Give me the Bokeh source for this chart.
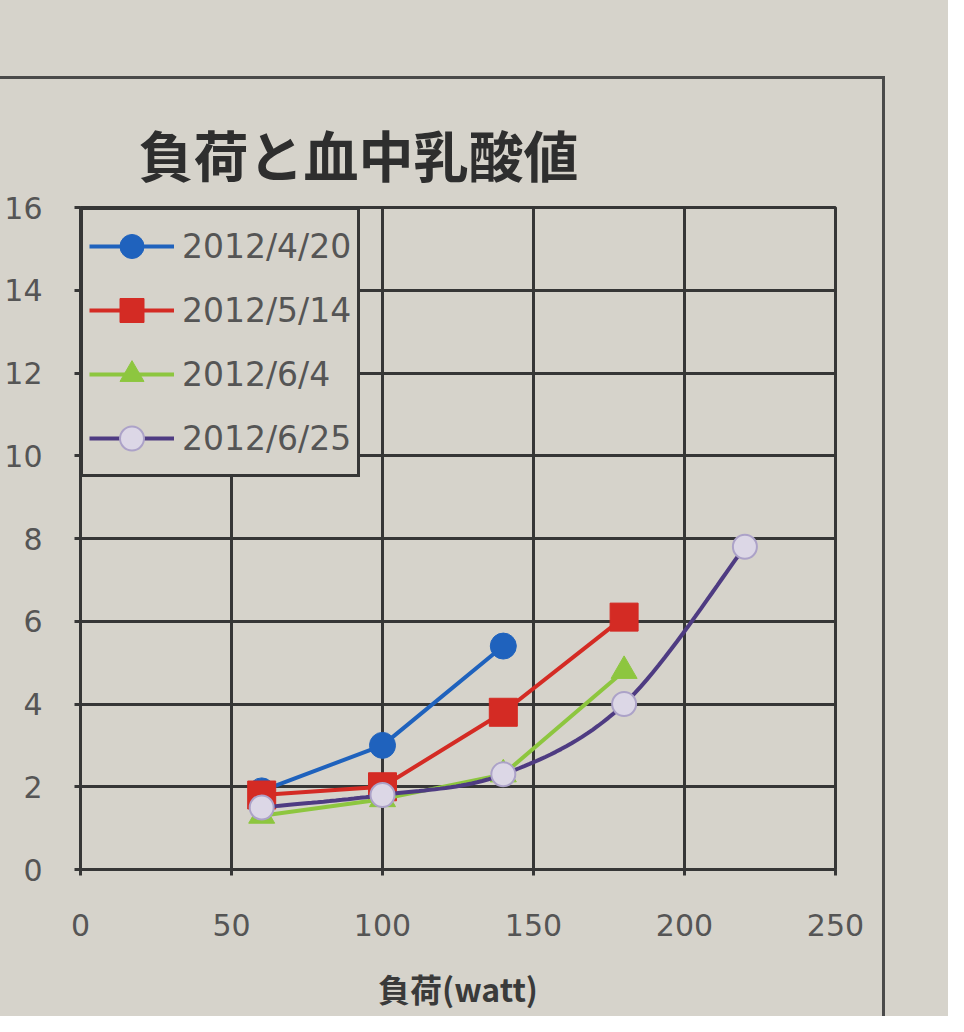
import numpy as np
from bokeh.plotting import figure
from bokeh.models import Legend, LegendItem, FixedTicker, Range1d, Spacer
from bokeh.layouts import column
from bokeh.embed import file_html
from bokeh.resources import INLINE

# ---------------- data ----------------
title_text = "負荷と血中乳酸値"
x_label = "負荷(watt)"
series_names = ["2012/4/20", "2012/5/14", "2012/6/4", "2012/6/25"]

load_0420 = [60, 100, 140]
lactate_0420 = [1.9, 3.0, 5.4]

load_0514 = [60, 100, 140, 180]
lactate_0514 = [1.8, 2.0, 3.8, 6.1]

load_0604 = [60, 100, 140, 180]
lactate_0604 = [1.3, 1.7, 2.3, 4.8]

load_0625 = [60, 100, 140, 180, 220]
lactate_0625 = [1.5, 1.8, 2.3, 4.0, 7.8]

x_ticks = [0, 50, 100, 150, 200, 250]
y_ticks = [0, 2, 4, 6, 8, 10, 12, 14, 16]

# ---------------- style ----------------
paper = "#d6d3cb"
ink = "#363636"
label_gray = "#555555"
num_font = "DejaVu Sans"
cjk_font = "Noto Sans CJK JP"


def smooth(xs, ys, n=24):
    """Catmull-Rom curve through the data points (Excel-like smoothed line)."""
    pts = np.column_stack([xs, ys]).astype(float)
    ext = np.vstack([pts[0], pts, pts[-1]])
    out = []
    for i in range(1, len(ext) - 2):
        p0, p1, p2, p3 = ext[i - 1], ext[i], ext[i + 1], ext[i + 2]
        t = np.linspace(0, 1, n)[:, None]
        seg = 0.5 * ((2 * p1) + (-p0 + p2) * t + (2 * p0 - 5 * p1 + 4 * p2 - p3) * t ** 2
                     + (-p0 + 3 * p1 - 3 * p2 + p3) * t ** 3)
        out.append(seg if i == 1 else seg[1:])
    c = np.vstack(out)
    return c[:, 0], c[:, 1]


p = figure(width=885, height=940, x_range=Range1d(0, 250), y_range=Range1d(0, 16),
           output_backend="svg", toolbar_location=None,
           background_fill_color=paper, border_fill_color=paper,
           min_border_left=80, min_border_right=50, min_border_top=128, min_border_bottom=150)

p.styles = {"border-top": "3px solid #4a4a4a", "border-right": "3px solid #4a4a4a"}

# title
p.title.text = title_text
p.title.text_font = cjk_font
p.title.text_font_style = "bold"
p.title.text_font_size = "55px"
p.title.text_color = "#2e2e2e"
p.title.align = "left"
p.title.offset = 58
p.title.standoff = 30

# grid and frame
p.outline_line_color = ink
p.outline_line_width = 3
for g in (p.xgrid, p.ygrid):
    g.grid_line_color = ink
    g.grid_line_width = 3
p.xgrid.ticker = FixedTicker(ticks=x_ticks)
p.ygrid.ticker = FixedTicker(ticks=y_ticks)

# axes
p.xaxis.ticker = FixedTicker(ticks=x_ticks)
p.yaxis.ticker = FixedTicker(ticks=y_ticks)
for ax in (p.xaxis, p.yaxis):
    ax.axis_line_color = None
    ax.major_tick_line_color = ink
    ax.major_tick_line_width = 3
    ax.major_tick_in = 0
    ax.major_tick_out = 6
    ax.minor_tick_line_color = None
    ax.major_label_text_font = num_font
    ax.major_label_text_font_size = "30px"
    ax.major_label_text_color = label_gray
p.xaxis.major_label_standoff = 38
p.yaxis.major_label_standoff = 32

p.xaxis.axis_label = x_label
p.xaxis.axis_label_text_font = cjk_font
p.xaxis.axis_label_text_font_style = "bold"
p.xaxis.axis_label_text_font_size = "32px"
p.xaxis.axis_label_text_color = "#3a3a3a"
p.xaxis.axis_label_standoff = 26

# series
l1 = p.line(load_0420, lactate_0420, line_color="#1f62bd", line_width=4)
m1 = p.scatter(load_0420, lactate_0420, marker="circle", size=26,
               fill_color="#1f62bd", line_color="#1f62bd")

l2 = p.line(load_0514, lactate_0514, line_color="#d42b24", line_width=4)
m2 = p.scatter(load_0514, lactate_0514, marker="square", size=28,
               fill_color="#d42b24", line_color="#d42b24")

l3 = p.line(load_0604, lactate_0604, line_color="#8dc63f", line_width=4)
m3 = p.scatter(load_0604, lactate_0604, marker="triangle", size=26,
               fill_color="#8dc63f", line_color="#8dc63f")

sx, sy = smooth(load_0625, lactate_0625)
l4 = p.line(sx, sy, line_color="#4e3b82", line_width=4)
m4 = p.scatter(load_0625, lactate_0625, marker="circle", size=24,
               fill_color="#dcd7e6", line_color="#aca2c8", line_width=2)

legend = Legend(items=[
    LegendItem(label=series_names[0], renderers=[l1, m1]),
    LegendItem(label=series_names[1], renderers=[l2, m2]),
    LegendItem(label=series_names[2], renderers=[l3, m3]),
    LegendItem(label=series_names[3], renderers=[l4, m4]),
], location="top_left")
legend.background_fill_color = paper
legend.background_fill_alpha = 1
legend.border_line_color = ink
legend.border_line_alpha = 1
legend.border_line_width = 3
legend.label_text_font = num_font
legend.label_text_font_size = "33px"
legend.label_text_color = label_gray
legend.glyph_width = 85
legend.glyph_height = 60
legend.label_height = 60
legend.label_standoff = 8
legend.spacing = 4
legend.padding = 6
legend.margin = 0
p.add_layout(legend, "center")

page = column(Spacer(width=948, height=76), p, styles={"background-color": paper})

open("out.html", "w").write(file_html(page, INLINE))
